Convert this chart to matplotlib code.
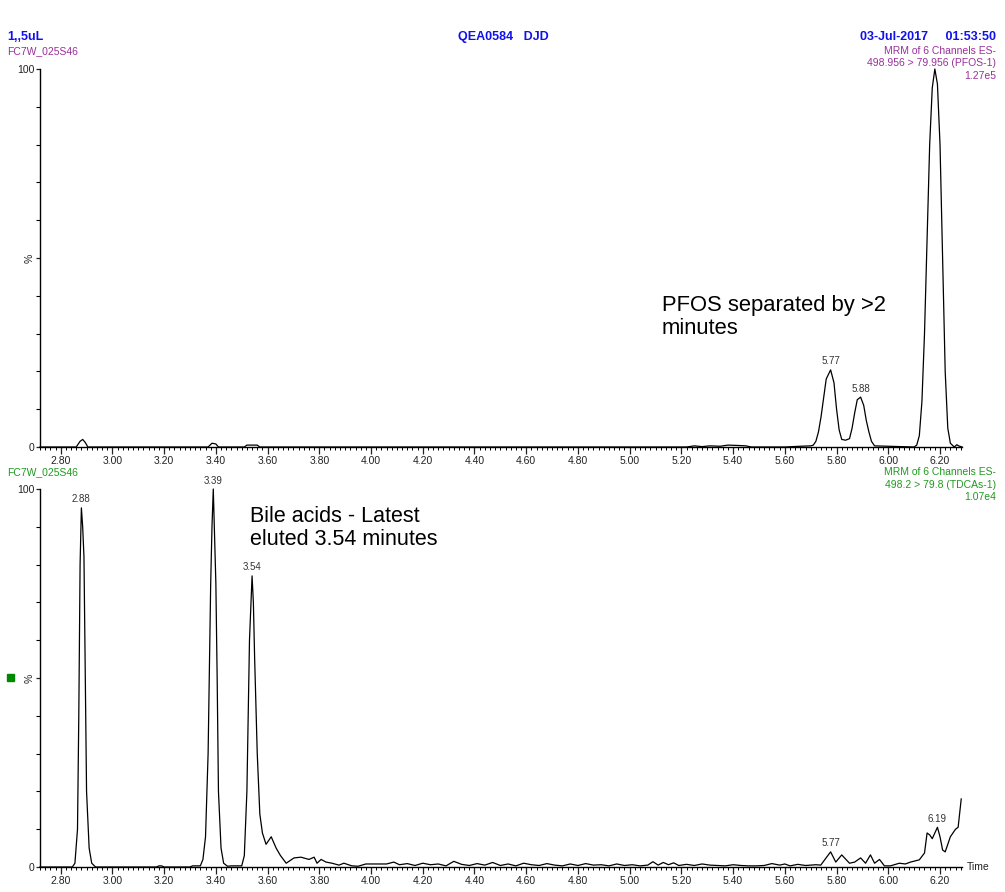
import matplotlib
matplotlib.use("Agg")
import matplotlib.pyplot as plt
from matplotlib.ticker import MultipleLocator, FixedLocator

plt.rcParams['font.family'] = ['Liberation Sans', 'DejaVu Sans']

# ---------------- data ----------------
# Top trace: MRM 498.956 > 79.956 (PFOS-1), % of 1.27e5
pfos_t = [2.72, 2.86, 2.875, 2.885, 2.895, 2.905, 3.37, 3.385, 3.40, 3.41,
          3.51, 3.52, 3.56, 3.57, 5.22, 5.25, 5.28, 5.31, 5.35, 5.38, 5.42,
          5.45, 5.47, 5.60, 5.66, 5.70, 5.71, 5.72, 5.73, 5.74, 5.75, 5.76,
          5.777, 5.79, 5.80, 5.81, 5.82, 5.835, 5.85, 5.86, 5.87, 5.88,
          5.893, 5.905, 5.915, 5.925, 5.935, 5.947, 6.10, 6.11, 6.12, 6.13,
          6.14, 6.15, 6.16, 6.17, 6.18, 6.19, 6.20, 6.21, 6.22, 6.23, 6.24,
          6.255, 6.265, 6.272, 6.285]
pfos_y = [0, 0, 1.5, 2.0, 1.2, 0, 0, 1.0, 0.8, 0,
          0, 0.5, 0.5, 0, 0, 0.3, 0.1, 0.3, 0.2, 0.5, 0.4,
          0.3, 0, 0, 0.2, 0.3, 0.5, 1.5, 4, 8, 13, 18,
          20.4, 17, 10, 4.5, 2.0, 1.8, 2.2, 5, 9, 12.5,
          13.2, 11, 7, 4, 1.5, 0.3, 0, 0.5, 3, 12,
          30, 55, 80, 95, 100, 96, 80, 50, 20, 5, 1,
          0, 0.6, 0.3, 0]
pfos_labels = [(5.777, 20.4, "5.77"), (5.893, 13.2, "5.88")]

# Bottom trace: MRM 498.2 > 79.8 (TDCAs-1), % of 1.07e4
tdca_t = [2.72, 2.845, 2.855, 2.865, 2.87, 2.875, 2.88, 2.885, 2.89, 2.895,
          2.90, 2.91, 2.92, 2.935, 3.17, 3.18, 3.19, 3.20, 3.30, 3.31, 3.34,
          3.35, 3.36, 3.37, 3.38, 3.385, 3.39, 3.395, 3.40, 3.405, 3.41,
          3.42, 3.43, 3.445, 3.46, 3.50, 3.51, 3.52, 3.53, 3.54, 3.545,
          3.55, 3.56, 3.57, 3.58, 3.594, 3.614, 3.633, 3.65, 3.672, 3.702,
          3.729, 3.76, 3.78, 3.791, 3.807, 3.826, 3.849, 3.876, 3.895,
          3.926, 3.95, 3.98, 4.02, 4.06, 4.088, 4.11, 4.14, 4.17, 4.20,
          4.23, 4.26, 4.29, 4.32, 4.35, 4.38, 4.41, 4.44, 4.47, 4.50,
          4.53, 4.56, 4.59, 4.62, 4.65, 4.68, 4.71, 4.74, 4.77, 4.80,
          4.83, 4.86, 4.89, 4.92, 4.95, 4.98, 5.01, 5.04, 5.07, 5.09,
          5.11, 5.13, 5.15, 5.17, 5.19, 5.22, 5.25, 5.28, 5.31, 5.34,
          5.37, 5.40, 5.43, 5.46, 5.49, 5.52, 5.55, 5.58, 5.60, 5.62,
          5.65, 5.68, 5.70, 5.72, 5.739, 5.755, 5.777, 5.797, 5.82, 5.85,
          5.87, 5.893, 5.912, 5.931, 5.947, 5.966, 5.985, 6.008, 6.043,
          6.066, 6.086, 6.12, 6.14, 6.15, 6.16, 6.17, 6.18, 6.19, 6.20,
          6.21, 6.22, 6.23, 6.24, 6.25, 6.26, 6.27, 6.282]
tdca_y = [0, 0, 1, 10, 40, 80, 95, 90, 82, 50,
          20, 5, 1, 0, 0, 0.3, 0.3, 0, 0, 0.3, 0.3,
          2, 8, 30, 75, 90, 100, 88, 75, 50, 20,
          5, 1, 0.2, 0.3, 0.3, 3, 20, 60, 77, 70,
          55, 30, 14, 9, 6, 8, 5, 3.0, 1.0, 2.4,
          2.6, 2.0, 2.6, 1.0, 2.0, 1.3, 1.0, 0.5, 1.0,
          0.3, 0.2, 0.8, 0.8, 0.8, 1.3, 0.6, 0.9, 0.4, 1.0,
          0.6, 0.8, 0.3, 1.5, 0.7, 0.4, 0.9, 0.5, 1.2, 0.4,
          0.8, 0.3, 1.0, 0.6, 0.4, 0.9, 0.5, 0.3, 0.8, 0.4,
          0.9, 0.5, 0.6, 0.3, 0.8, 0.4, 0.6, 0.3, 0.5, 1.4,
          0.5, 1.2, 0.6, 1.1, 0.4, 0.7, 0.4, 0.8, 0.5, 0.4,
          0.3, 0.6, 0.4, 0.3, 0.3, 0.4, 0.9, 0.5, 0.8, 0.3,
          0.7, 0.4, 0.5, 0.6, 0.5, 2.0, 4.0, 1.3, 3.2, 1.0,
          1.3, 2.4, 1.0, 3.2, 1.0, 2.0, 0.3, 0.3, 1.0,
          0.8, 1.3, 1.9, 3.7, 9, 8.5, 7.5, 9, 10.5, 8,
          4.5, 4, 6, 8, 9, 10, 10.5, 18]
tdca_labels = [(2.88, 95, "2.88"), (3.39, 100, "3.39"), (3.54, 77, "3.54"),
               (5.777, 4.0, "5.77"), (6.19, 10.5, "6.19")]

x_major = [2.80, 3.00, 3.20, 3.40, 3.60, 3.80, 4.00, 4.20, 4.40, 4.60,
           4.80, 5.00, 5.20, 5.40, 5.60, 5.80, 6.00, 6.20]

# ---------------- figure ----------------
W, H = 1005, 892
fig = plt.figure(figsize=(W / 100, H / 100), dpi=100)

def fx(px):
    return px / W

def fy(py):
    return 1 - py / H

BLUE = '#1010ee'
PURPLE = '#9a2f9a'
GREEN = '#1f9a1f'

ax1 = fig.add_axes([fx(40), fy(447), fx(962) - fx(40), fy(69) - fy(447)])
ax2 = fig.add_axes([fx(40), fy(867), fx(962) - fx(40), fy(489) - fy(867)])

for ax, t, y, labs in [(ax1, pfos_t, pfos_y, pfos_labels),
                       (ax2, tdca_t, tdca_y, tdca_labels)]:
    ax.plot(t, y, color='black', lw=0.9, clip_on=False)
    ax.set_xlim(2.72, 6.285)
    ax.set_ylim(0, 100)
    for s in ['top', 'right']:
        ax.spines[s].set_visible(False)
    for s in ['left', 'bottom']:
        ax.spines[s].set_linewidth(1.0)
    ax.xaxis.set_major_locator(FixedLocator(x_major))
    ax.xaxis.set_minor_locator(MultipleLocator(0.02))
    ax.set_xticklabels([f"{v:.2f}" for v in x_major])
    ax.set_yticks([0, 50, 100])
    ax.set_yticklabels(['0', '%', '100'])
    ax.yaxis.set_minor_locator(MultipleLocator(10))
    ax.tick_params(axis='x', which='major', length=5, width=0.9,
                   labelsize=7.5, pad=1.5, colors='#222222')
    ax.tick_params(axis='x', which='minor', length=2.5, width=0.7)
    ax.tick_params(axis='y', which='major', length=3, width=0.9,
                   labelsize=7.5, pad=1, colors='#222222')
    ax.tick_params(axis='y', which='minor', length=3, width=0.8)
    for lbl in ax.get_yticklabels():
        if lbl.get_text() == '%':
            lbl.set_rotation(90)
            lbl.set_va('center')
    for (px, py, txt) in labs:
        ax.annotate(txt, (px, py), xytext=(0, 2.5), textcoords='offset points',
                    ha='center', va='bottom', fontsize=7, color='#333333')
    ax.set_facecolor('white')

# annotations
fig.text(fx(662), fy(317), "PFOS separated by >2\nminutes", fontsize=15.8,
         ha='left', va='center', linespacing=1.1, color='black')
fig.text(fx(250), fy(528), "Bile acids - Latest\neluted 3.54 minutes", fontsize=15.5,
         ha='left', va='center', linespacing=1.1, color='black')

# header texts
fig.text(fx(7), fy(37), "1,,5uL", fontsize=9, fontweight='bold', color=BLUE,
         ha='left', va='center')
fig.text(fx(503), fy(37), "QEA0584   DJD", fontsize=9, fontweight='bold',
         color=BLUE, ha='center', va='center')
fig.text(fx(996), fy(37), "03-Jul-2017     01:53:50", fontsize=9,
         fontweight='bold', color=BLUE, ha='right', va='center')
fig.text(fx(7), fy(51), "FC7W_025S46", fontsize=7.5, color=PURPLE,
         ha='left', va='center')
fig.text(fx(996), fy(51), "MRM of 6 Channels ES-", fontsize=7.5, color=PURPLE,
         ha='right', va='center')
fig.text(fx(996), fy(63), "498.956 > 79.956 (PFOS-1)", fontsize=7.5,
         color=PURPLE, ha='right', va='center')
fig.text(fx(996), fy(76), "1.27e5", fontsize=7.5, color=PURPLE,
         ha='right', va='center')

fig.text(fx(7), fy(472), "FC7W_025S46", fontsize=7.5, color=GREEN,
         ha='left', va='center')
fig.text(fx(996), fy(472), "MRM of 6 Channels ES-", fontsize=7.5, color=GREEN,
         ha='right', va='center')
fig.text(fx(996), fy(485), "498.2 > 79.8 (TDCAs-1)", fontsize=7.5,
         color=GREEN, ha='right', va='center')
fig.text(fx(996), fy(497), "1.07e4", fontsize=7.5, color=GREEN,
         ha='right', va='center')

fig.text(fx(967), fy(867), "Time", fontsize=7.5, color='#222222',
         ha='left', va='center')

# green square marker
fig.patches.append(plt.Rectangle((fx(7), fy(681)), fx(7), fy(674) - fy(681),
                                 transform=fig.transFigure, color='#008800'))

fig.savefig("out.png", dpi=100, facecolor='white')
